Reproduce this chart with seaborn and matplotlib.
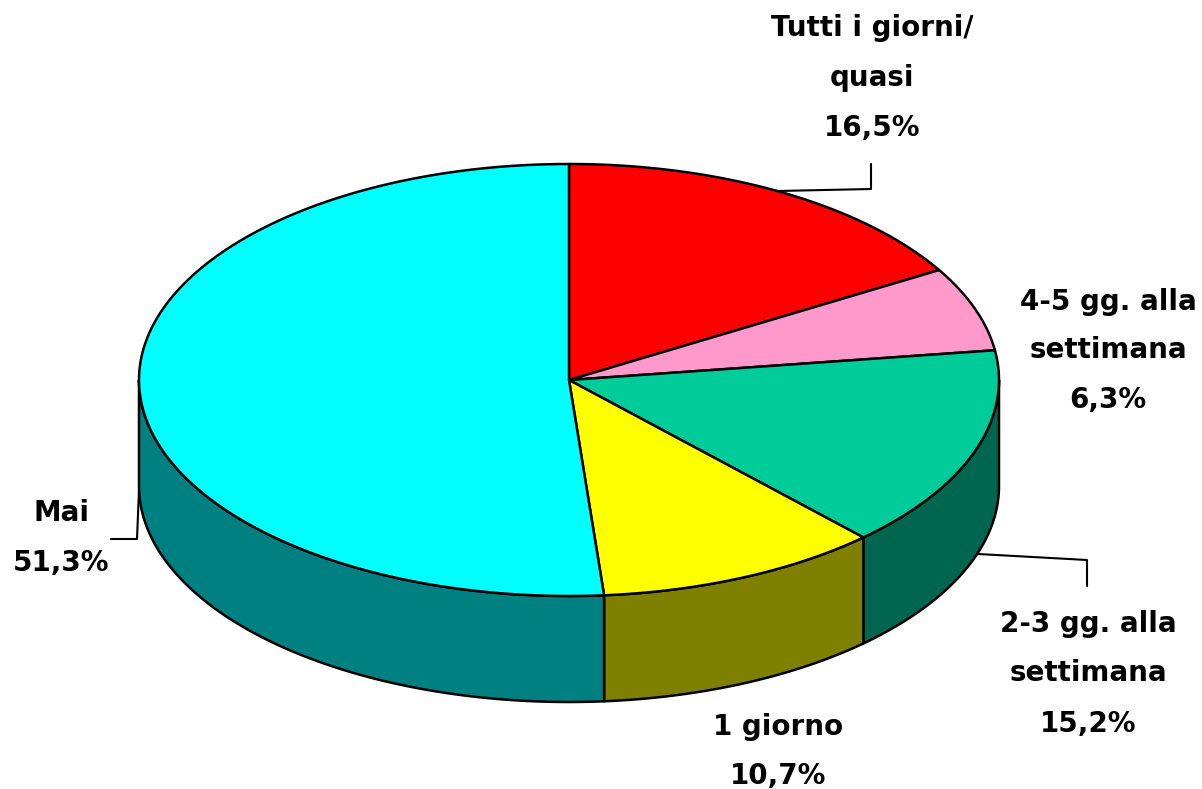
import numpy as np
import matplotlib
matplotlib.use('Agg')
import matplotlib.pyplot as plt
import seaborn as sns

# values clockwise from 12 o'clock
categories = ['Tutti i giorni/ quasi', '4-5 gg. alla settimana', '2-3 gg. alla settimana', '1 giorno', 'Mai']
values = [16.5, 6.3, 15.2, 10.7, 51.3]
top_colors = ['#ff0000', '#ff99cc', '#00cc99', '#ffff00', '#00ffff']
side_colors = ['#800000', '#804d66', '#006650', '#808000', '#008080']

label_lines = [
    ['Tutti i giorni/', 'quasi', '16,5%'],
    ['4-5 gg. alla', 'settimana', '6,3%'],
    ['2-3 gg. alla', 'settimana', '15,2%'],
    ['1 giorno', '10,7%'],
    ['Mai', '51,3%'],
]
label_x = [872, 1108, 1088, 778, 61]
label_y = [[28, 78, 128], [302, 350, 400], [624, 673, 724], [727, 776], [513, 563]]

# pie geometry in image pixels
cx, cy = 569, 380
rx, ry = 430, 216
depth = 106


def rim(a0, a1):
    t = np.radians(np.linspace(a0, a1, 200))
    return cx + rx * np.sin(t), cy - ry * np.cos(t)


sns.set_theme(style='white')
fig = plt.figure(figsize=(12.02, 7.89), dpi=100)
ax = fig.add_axes([0, 0, 1, 1])
ax.set_xlim(0, 1202)
ax.set_ylim(789, 0)
ax.axis('off')

edges = np.cumsum([0] + values) / sum(values) * 360

# side walls only exist on the front half of the ellipse
for i in range(len(values)):
    a0, a1 = max(edges[i], 90), min(edges[i + 1], 270)
    if a1 <= a0:
        continue
    x, y = rim(a0, a1)
    ax.fill(np.r_[x, x[::-1]], np.r_[y, y[::-1] + depth],
            facecolor=side_colors[i], edgecolor='black', lw=1.8, joinstyle='round')

# top faces
for i in range(len(values)):
    x, y = rim(edges[i], edges[i + 1])
    ax.fill(np.r_[cx, x], np.r_[cy, y],
            facecolor=top_colors[i], edgecolor='black', lw=1.8, joinstyle='round')

# leader lines
ax.plot([778, 871, 871], [191, 189, 164], color='black', lw=1.5)
ax.plot([978, 1087, 1087], [554, 560, 586], color='black', lw=1.5)
ax.plot([111, 137, 139], [539, 539, 490], color='black', lw=1.5)

for lines, lx, ly in zip(label_lines, label_x, label_y):
    for line, yy in zip(lines, ly):
        ax.text(lx, yy, line, ha='center', va='center', color='black',
                fontsize=20, fontweight='bold', family='DejaVu Sans')

plt.savefig('out.png', dpi=100)
plt.close(fig)
